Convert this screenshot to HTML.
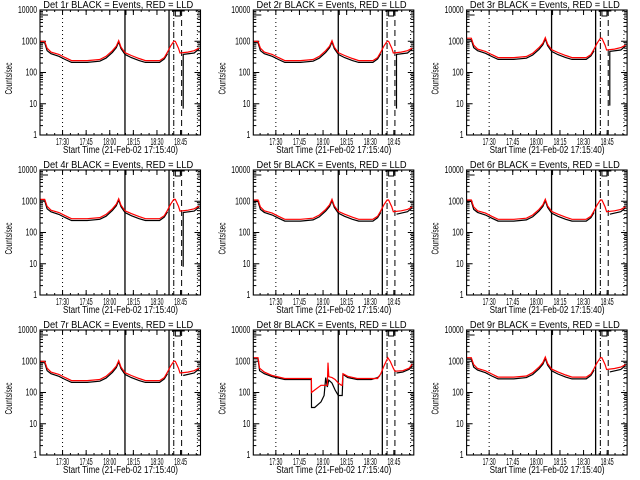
<!DOCTYPE html>
<html><head><meta charset="utf-8"><style>
html,body{margin:0;padding:0;background:#fff;}
svg{display:block;}
text{font-family:"Liberation Sans",sans-serif;font-size:10px;fill:#000;}
</style></head><body>
<svg id="chart" width="640" height="480" viewBox="0 0 640 480" xmlns="http://www.w3.org/2000/svg"></svg>
<script>
// Times in minutes since 17:15:40
const redTimes = [0,3,4.5,7,12,16,20,30,38,42,46,48.5,50,51.5,54,58,63,67,76,79,81,83,85,86,88,89,94,98,101];
const redVals  = [1000,1000,600,450,380,300,240,240,260,330,500,700,1050,650,430,350,280,240,240,300,450,700,1000,1000,600,420,450,500,600];
const blackTimes = [0,3,4.5,7,12,16,20,30,38,42,46,48.5,50,51.5,54,58,63,67,76,79,81];
const blackVals  = [900,900,500,400,330,260,210,210,230,290,440,620,950,580,380,300,240,210,210,270,400];
const blackTailTimes = [91,91,98,101];
const blackTailVals = [7,380,420,560];
const blackTailValsNoDrop = [350,350,420,560];
const panelScale = [1.0,1.0,1.25,1.15,1.1,1.1,1.0,1.0,1.3];
const panelDrop = [true,true,true,true,false,false,false,false,false];
// Detector 8 special
const red8Times = [0,3,4,7,12,20,30,36.9,37,39,43,47,47.5,48,50,52,54,56,56.5,57,60,66,75,79,81,83,85.5,87,89,90,95,99,101];
const red8Vals  = [1300,1300,600,450,350,280,280,280,100,120,170,170,900,320,300,260,200,170,170,400,330,280,280,280,400,700,1300,1000,600,480,500,600,800];
const black8Times = [0,3,4,7,12,20,30,36.9,37,39,43,45,46,47,48,50,52,54,56,56.5,57,60,66,75,79,80.5];
const black8Vals  = [1200,1200,500,400,320,260,260,260,33,33,50,80,300,150,250,200,120,80,80,80,380,300,260,260,300,350];
const black8TailTimes=[91,95,99,101];
const black8TailVals=[420,450,550,700];
const yTicks = [1,10,100,1000,10000];
const yTickLabels = ["1","10","100","1000","10000"];
const xTickTimes = [14.33,29.33,44.33,59.33,74.33,89.33];
const xTickLabels = ["17:30","17:45","18:00","18:15","18:30","18:45"];
const vlineTimes = {solid1:54, solid2:82, dashdot:85, dashed:90, dotted1:14.33, dotted2:100};

const NS="http://www.w3.org/2000/svg";
const svg=document.getElementById('chart');
function mk(tag,attrs,parent){const e=document.createElementNS(NS,tag);for(const k in attrs)e.setAttribute(k,attrs[k]);(parent||svg).appendChild(e);return e;}

for(let p=0;p<9;p++){
  const col=p%3,row=Math.floor(p/3);
  const L=40+col*213.3, R=L+160.5, T=10+row*160, B=135+row*160;
  const xs=t=>L+t*(R-L)/102;
  const ys=v=>B-Math.log10(Math.max(v,1))*(B-T)/4;
  const g=mk('g',{});
  
  
  const title=mk('text',{x:(L+R)/2-150/2+(-2),y:T-2,textLength:150,lengthAdjust:'spacingAndGlyphs','font-size':'10'},g);
  title.textContent='Det '+(p+1)+'r BLACK = Events, RED = LLD';
  
  
  const xl=mk('text',{x:L+23,y:B+18,textLength:115,lengthAdjust:'spacingAndGlyphs','font-size':'9'},g);
  xl.textContent='Start Time (21-Feb-02 17:15:40)';
  
  
  const yl=mk('text',{x:-16,y:0,textLength:32,lengthAdjust:'spacingAndGlyphs','font-size':'8',transform:`translate(${L-28},${(T+B)/2+6}) rotate(-90)`},g);
  yl.textContent='Counts/sec';
  
  
  yTicks.forEach((v,i)=>{
    const y=ys(v);
    const lab=yTickLabels[i];
    const t=mk('text',{x:L-3-lab.length*3.8,y:y+3,textLength:lab.length*3.8,lengthAdjust:'spacingAndGlyphs','font-size':'8'},g);
    t.textContent=lab;
    
    
    mk('line',{x1:L,x2:L+6,y1:y,y2:y,stroke:'#000'},g);
    mk('line',{x1:R,x2:R-6,y1:y,y2:y,stroke:'#000'},g);
    if(i<4)for(let m=2;m<10;m++){const yy=ys(v*m);mk('line',{x1:L,x2:L+3,y1:yy,y2:yy,stroke:'#000'},g);mk('line',{x1:R,x2:R-3,y1:yy,y2:yy,stroke:'#000'},g);}
  });
  xTickTimes.forEach((t,i)=>{
    const x=xs(t);
    const tl=mk('text',{x:x-6.5,y:B+10,textLength:13,lengthAdjust:'spacingAndGlyphs','font-size':'8'},g);
    tl.textContent=xTickLabels[i];
    
    
    mk('line',{x1:x,x2:x,y1:B,y2:B-5,stroke:'#000'},g);
    mk('line',{x1:x,x2:x,y1:T,y2:T+5,stroke:'#000'},g);
  });
  for(let t=4.33;t<102;t+=5){const x=xs(t);mk('line',{x1:x,x2:x,y1:B,y2:B-2,stroke:'#000'},g);mk('line',{x1:x,x2:x,y1:T,y2:T+2,stroke:'#000'},g);}
  // vertical lines
  [['dotted1','1,3'],['dotted2','1,3'],['solid1',null],['solid2',null],['dashdot','6,2,1,2'],['dashed','6,4']].forEach(([k,d])=>{
    const a={x1:xs(vlineTimes[k]),x2:xs(vlineTimes[k]),y1:T,y2:B,stroke:'#000','stroke-width':k.startsWith('solid')?1.3:1};
    if(d)a['stroke-dasharray']=d;
    const ln=mk('line',a,g);
    
    
  });
  mk('path',{d:`M${L+1} ${T+5} H${L+8} M${xs(54)+1} ${T} V${T+5}`,stroke:'#000',fill:'none'},g);
  mk('rect',{x:xs(86),y:T+1,width:5,height:5,stroke:'#000',fill:'none'},g);
  mk('line',{x1:xs(84),x2:xs(92),y1:T+1,y2:T+1,stroke:'#000'},g);
  // series
  const pts=(ts,vs,s)=>ts.map((t,i)=>xs(t).toFixed(1)+','+ys(vs[i]*s).toFixed(1)).join(' ');
  let bk,rd,tail;
  if(p===7){
    bk=pts(black8Times,black8Vals,1); rd=pts(red8Times,red8Vals,1); tail=pts(black8TailTimes,black8TailVals,1);
  } else {
    const s=panelScale[p];
    bk=pts(blackTimes,blackVals,s); rd=pts(redTimes,redVals,s);
    tail=pts(blackTailTimes,panelDrop[p]?blackTailVals:blackTailValsNoDrop,s);
  }
  const b1=mk('polyline',{points:bk,fill:'none',stroke:'#000','stroke-width':1.2},g);
  
  
  const b2=mk('polyline',{points:tail,fill:'none',stroke:'#000','stroke-width':1.2},g);
  
  
  const r1=mk('polyline',{points:rd,fill:'none',stroke:'#f00','stroke-width':1.2},g);
  
  
  const box=mk('rect',{x:L,y:T,width:R-L,height:B-T,fill:'none',stroke:'#000','stroke-width':1.1},g);
  
  
}
</script>
</body></html>
